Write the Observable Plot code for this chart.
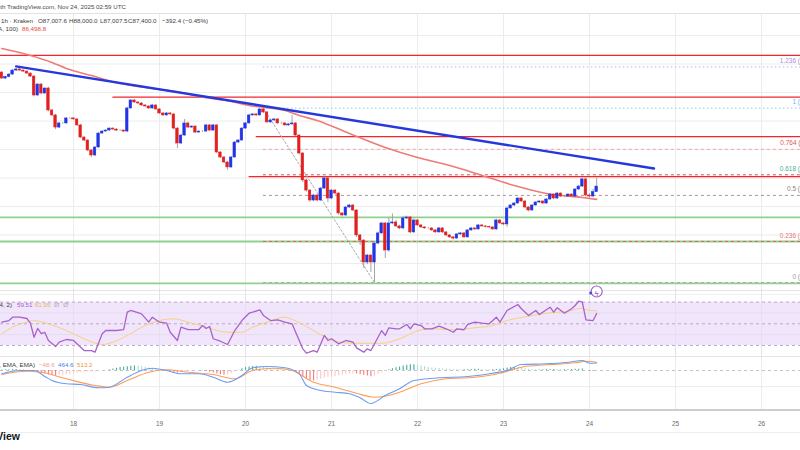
<!DOCTYPE html>
<html>
<head>
<meta charset="utf-8">
<title>BTC/USD 1h – Kraken</title>
<script src="https://cdn.jsdelivr.net/npm/d3@7"></script>
<script src="https://cdn.jsdelivr.net/npm/@observablehq/plot@0.6"></script>
<style>
  html, body { margin: 0; padding: 0; background: #fff; overflow: hidden; }
  #chart { position: relative; width: 800px; height: 450px; overflow: hidden;
           font-family: "Liberation Sans", "DejaVu Sans", sans-serif; color: #3d3d3d; }
  .pane { position: absolute; left: 0; width: 800px; overflow: hidden; }
  .txt { position: absolute; white-space: nowrap; font-size: 6.2px; line-height: 8px; }
  .rule { position: absolute; left: 0; width: 800px; }
</style>
</head>
<body>
<div id="chart">
  <div class="pane" id="price" style="top:13px;height:276px"></div>
  <div class="rule" style="top:290px;height:1px;background:#e6e6e6"></div>
  <div class="rule" style="top:294px;height:1px;background:#efefef"></div>
  <div class="pane" id="rsi" style="top:280px;height:77px"></div>
  <div class="rule" style="top:356px;height:1px;background:#e4e4e4"></div>
  <div class="pane" id="macd" style="top:357px;height:52px"></div>
  <div class="pane" id="axis" style="top:409px;height:24px"></div>
  <div class="rule" style="top:409px;height:2px;background:#cdcdcd"></div>
  <div class="rule" style="top:432px;height:1px;background:#eeeeee"></div>
  <div class="rule" style="top:13px;height:1px;background:#e2e2e2"></div>

  <div class="txt" style="right:674px;top:3px;color:#4a4a4a">Bitcoin / U.S. Dollar, 1h, Kraken, created with TradingView.com, Nov 24, 2025 02:59 UTC</div>
  <div class="txt" style="right:767px;top:17px">Bitcoin / U.S. Dollar · 1h · Kraken</div>
  <div class="txt" id="ohlc" style="top:17px"></div>
  <div class="txt" style="right:782px;top:25px">EMA (EMA, 100)</div>
  <div class="txt" id="emaValue" style="left:22px;top:25px;color:#e8453c"></div>

  <div class="txt" style="right:788px;top:301px">RSI (close, 14, SMA, 14, 2)</div>
  <div class="txt" id="rsiLegend" style="top:301px"></div>
  <div class="txt" style="right:765px;top:361px">MACD (12, 26, close, 9, EMA, EMA)</div>
  <div class="txt" id="macdLegend" style="top:361px"></div>

  <div class="txt" style="right:780px;top:430px;font-size:10.5px;line-height:12px;font-weight:bold;color:#131722">TradingView</div>
</div>
<script>
// ---- BTC/USD hourly candles, Nov 17 04:00 UTC to Nov 24 02:00 UTC ----
const firstOpen = 95400;
const closes = [
  94980, 95090, 95260, 95540, 95620, 95540, 95470, 95330, 95120, 93790,
  94560, 93930, 94280, 92740, 92390, 91540, 91830, 91830, 92180, 92180,
  92110, 91690, 90840, 90630, 89930, 89580, 90140, 91120, 91260, 91330,
  91470, 91400, 91330, 91330, 91260, 92880, 93440, 93300, 93230, 93090,
  93020, 92880, 93090, 92810, 92530, 92390, 92530, 92460, 91470, 90420,
  90980, 91830, 91540, 91610, 91190, 91260, 91260, 91690, 91330, 91690,
  89790, 89440, 89090, 88740, 89440, 90490, 90630, 91470, 91830, 92390,
  92460, 92390, 92810, 92600, 91900, 92040, 92110, 91830, 91830, 91690,
  91760, 91830, 90980, 89720, 87830, 87120, 86420, 86770, 86420, 87260,
  87970, 86560, 87120, 86910, 85510, 85370, 85930, 86070, 85720, 83970,
  83610, 82070, 82560, 82070, 83400, 84110, 84810, 82910, 84810, 84880,
  84600, 84460, 85160, 85230, 84180, 85020, 84670, 84530, 84460, 84460,
  84320, 84180, 84460, 84180, 83970, 83830, 83750, 84040, 84110, 83830,
  84320, 84460, 84390, 84670, 84600, 84560, 84530, 84390, 85020, 84810,
  84740, 85860, 86070, 86210, 86560, 86350, 85930, 85720, 86070, 86280,
  86350, 86210, 86490, 86840, 86560, 86910, 86700, 86700, 86840, 86700,
  87190, 87400, 87900, 86770, 86700, 87007.6, 87400
];
// wick lengths above the body top and below the body bottom (USD)
const upperWick = [
  80, 60, 60, 70, 60, 60, 50, 60, 60, 80,
  70, 80, 60, 90, 70, 80, 60, 60, 70, 60,
  60, 50, 70, 60, 80, 70, 60, 80, 60, 60,
  50, 60, 60, 60, 60, 90, 70, 80, 60, 60,
  60, 60, 80, 60, 60, 60, 70, 60, 80, 70,
  80, 280, 70, 60, 60, 60, 60, 80, 70, 80,
  60, 60, 60, 70, 70, 80, 70, 70, 60, 80,
  60, 70, 90, 50, 80, 60, 60, 70, 70, 60,
  70, 560, 60, 60, 70, 80, 70, 90, 70, 80,
  120, 90, 80, 70, 80, 70, 60, 80, 70, 60,
  60, 70, 80, 60, 70, 90, 80, 70, 350, 600,
  150, 90, 150, 100, 70, 110, 80, 70, 60, 60,
  60, 60, 70, 60, 60, 50, 60, 70, 60, 60,
  70, 60, 60, 70, 60, 60, 60, 60, 80, 60,
  60, 90, 80, 70, 80, 60, 60, 60, 70, 60,
  60, 70, 80, 70, 60, 80, 60, 60, 60, 70,
  70, 80, 100, 90, 120, 200, 600
];
const lowerWick = [
  60, 60, 70, 60, 60, 50, 60, 60, 70, 100,
  80, 90, 70, 100, 80, 150, 70, 60, 60, 60,
  60, 70, 80, 80, 90, 150, 70, 60, 60, 60,
  60, 60, 60, 60, 60, 70, 60, 60, 60, 60,
  60, 70, 60, 60, 70, 60, 60, 60, 100, 350,
  70, 60, 60, 60, 80, 60, 60, 60, 70, 60,
  90, 70, 80, 200, 70, 60, 70, 60, 60, 60,
  60, 60, 60, 70, 70, 60, 70, 60, 60, 70,
  60, 60, 80, 120, 150, 100, 120, 90, 100, 80,
  70, 300, 80, 90, 120, 100, 80, 70, 90, 150,
  350, 420, 150, 700, 1410, 90, 80, 560, 120, 80,
  90, 90, 100, 90, 100, 80, 70, 70, 60, 60,
  70, 60, 60, 70, 80, 80, 100, 60, 70, 70,
  60, 60, 70, 60, 60, 60, 60, 70, 60, 70,
  80, 200, 60, 70, 60, 70, 80, 100, 60, 60,
  60, 70, 60, 60, 90, 60, 70, 60, 60, 60,
  70, 60, 70, 100, 100, 80, 0.1
];

// 100-period EMA, [candle index, value]
const emaPoints = [
  [0, 97090], [8, 96600], [14, 96110], [18, 95690], [25, 95190], [33, 94630],
  [42, 94280], [50, 94000], [55, 93720], [64, 93370], [69, 93090], [79, 92740],
  [83, 92390], [88, 92040], [97, 91120], [107, 90140], [116, 89440], [125, 88880],
  [134, 88180], [143, 87470], [152, 86910], [162, 86630], [166, 86498.8]
];

// drawn levels
const resistancePrices = [96600, 93670, 90910, 88100];
const resistanceFrom = [null, 31, 71, 69];        // candle index where the line begins
const supportPrices = [85230, 83545, 80600];
const trendIdx = [4, 182];
const trendPrices = [95830, 88670];

// Fibonacci retracement from the Nov 20 swing high to the Nov 21 low
const fibHigh = 92900, fibLow = 80660;
const fibHighIdx = 73, fibLowIdx = 104;
const fibLevels = [0, 0.236, 0.5, 0.618, 0.764, 1, 1.236];

// RSI (14) and its SMA, [candle index, value]
const rsiPoints = [
  [0,51.5],[2,53.0],[3,56.1],[5,56.1],[7,54.9],[8,50.3],[9,37.6],[10,45.7],[11,41.0],[12,42.0],
  [13,34.6],[15,29.0],[16,33.0],[18,35.5],[20,34.6],[22,28.4],[23,25.3],[25,25.3],[26,23.8],[28,40.8],
  [29,43.8],[32,43.8],[34,44.7],[35,60.7],[36,62.3],[39,59.2],[41,51.5],[42,56.1],[44,51.5],[46,50.6],
  [47,42.2],[49,34.6],[50,46.9],[52,44.7],[55,44.7],[56,48.4],[57,45.7],[58,47.5],[59,36.2],[61,33.9],
  [63,30.9],[65,43.8],[67,53.0],[69,59.8],[70,60.7],[72,62.9],[73,57.7],[75,53.0],[77,53.7],[79,51.5],
  [81,50.0],[82,42.2],[84,26.9],[85,22.9],[87,25.3],[88,23.8],[90,39.2],[91,34.6],[92,36.2],[94,31.5],
  [96,34.6],[98,33.0],[99,27.8],[101,23.8],[102,26.9],[103,25.3],[106,43.8],[107,39.2],[108,46.3],[110,45.4],
  [111,45.4],[113,49.4],[114,45.4],[115,50.0],[117,48.4],[118,45.4],[120,45.4],[122,47.8],[124,45.4],[126,42.2],
  [127,45.4],[129,44.5],[130,49.4],[132,51.5],[134,50.6],[136,50.0],[138,56.1],[139,51.5],[141,62.3],[144,67.8],
  [145,63.9],[147,57.7],[149,62.3],[150,58.6],[153,65.3],[154,60.7],[155,64.8],[157,59.8],[159,63.9],[160,66.9],
  [161,70.9],[162,69.9],[163,53.7],[165,53.0],[166,59.51]
];
const rsiMaPoints = [
  [0,40.8],[3,46.9],[7,51.5],[9,53.0],[13,50.0],[18,43.8],[23,36.2],[28,30.9],[31,33.0],[35,39.2],
  [40,48.4],[44,53.0],[48,54.6],[52,51.5],[57,46.9],[63,42.2],[67,42.2],[70,46.9],[74,51.5],[79,56.1],
  [81,54.0],[85,47.5],[89,40.0],[94,33.0],[100,32.0],[106,32.0],[111,36.2],[117,44.5],[120,45.4],[126,44.5],
  [132,46.3],[137,48.4],[141,53.0],[147,57.0],[152,59.8],[158,61.6],[162,64.4],[163,62.9],[166,61.95]
];

// MACD (12, 26, 9)
const macdPoints = [
  [0,-205],[5,0],[9,0],[12,-372],[14,-620],[18,-825],[22,-868],[27,-1073],[30,-1035],[35,-415],
  [39,0],[42,143],[46,0],[50,-205],[55,-205],[59,-415],[63,-725],[67,-310],[70,167],[74,248],
  [79,167],[83,-205],[85,-930],[89,-1240],[93,-1345],[97,-1445],[100,-1693],[103,-2046],[107,-1550],[111,-1135],
  [115,-620],[122,-453],[130,-372],[137,-167],[141,0],[145,372],[152,415],[158,515],[162,620],[164,453],[166,464.6]
];
const signalPoints = [
  [0,-248],[7,-43],[11,-105],[18,-515],[26,-930],[30,-1035],[35,-620],[41,-105],[46,43],[52,-105],
  [59,-248],[65,-515],[70,0],[76,143],[81,0],[87,-725],[93,-1035],[98,-1345],[104,-1655],[108,-1550],
  [111,-1345],[117,-825],[124,-515],[132,-415],[139,-167],[145,205],[152,353],[160,477],[163,577],[166,513.2]
];
const histogram = [
  30, 40, 40, 50, 60, 50, 40, 20, 0, -60, -120, -180,
  -220, -280, -300, -320, -300, -290, -270, -240, -200, -150, -130, -120,
  -110, -100, -90, -60, -30, 0, 40, 90, 140, 180, 200, 230,
  260, 280, 260, 230, 200, 160, 120, 70, 20, -20, -50, -80,
  -120, -140, -130, -100, -60, -30, -10, 0, -20, -60, -110, -160,
  -220, -270, -290, -280, -200, -100, 20, 110, 180, 220, 250, 260,
  230, 190, 150, 120, 100, 80, 60, 30, 0, -40, -100, -220,
  -380, -520, -620, -650, -610, -540, -480, -440, -420, -380, -330, -290,
  -250, -220, -210, -220, -260, -300, -340, -380, -350, -250, -150, -60,
  40, 110, 170, 220, 280, 320, 350, 360, 330, 280, 230, 190,
  160, 140, 120, 100, 80, 70, 60, 50, 40, 40, 50, 60,
  70, 70, 60, 50, 40, 40, 60, 80, 110, 150, 180, 190,
  180, 150, 110, 70, 40, 30, 30, 40, 50, 60, 60, 50,
  40, 40, 50, 60, 70, 80, 90, 20, -40, -60, -48.6
];

const dayLabels = [17, 18, 19, 20, 21, 22, 23, 24, 25, 26];
const priceTicks = [82000, 84000, 86000, 88000, 90000, 92000, 94000, 96000, 98000];

// ---- time axis ----
const H = 3600e3;
const firstCandle = Date.UTC(2025, 10, 17, 4);
const at = i => new Date(firstCandle + i * H);
const pxPerDay = 86;
const xStart = new Date(Date.UTC(2025, 10, 18) - (73 / pxPerDay) * 24 * H);
const xEnd = new Date(+xStart + (800 / pxPerDay) * 24 * H);
const xOpt = {type: "utc", domain: [xStart, xEnd], axis: null};
const days = dayLabels.map(d => new Date(Date.UTC(2025, 10, d)));
const font = '"Liberation Sans", "DejaVu Sans", sans-serif';
const pts = arr => arr.map(([i, v]) => ({t: at(i), v}));

// ---- candles ----
const UP = "#2234e6", DOWN = "#e3201f";
const candles = closes.map((c, i) => {
  const o = i === 0 ? firstOpen : closes[i - 1];
  return {t: at(i), open: o, close: c,
          high: Math.max(o, c) + upperWick[i], low: Math.min(o, c) - lowerWick[i]};
});

const fmt = d3.format(",.1f");
const fibs = fibLevels.map(level => ({level, price: fibLow + level * (fibHigh - fibLow)}));
const fibLine = {0: "#a8a8a8", 0.236: "#ea5a5a", 0.5: "#a89696", 0.618: "#ea4a4a", 0.764: "#f5a3a3", 1: "#a7d2f4", 1.236: "#cda8f0"};
const fibText = {0: "#9a9a9a", 0.236: "#ee6f6f", 0.5: "#8f7f7f", 0.618: "#4fae8e", 0.764: "#e25555", 1: "#6fb3ee", 1.236: "#b487e0"};
const dotted = new Set([1, 1.236]);

const resistance = resistancePrices.map((p, k) => ({p, from: resistanceFrom[k] == null ? xStart : at(resistanceFrom[k])}));
const trend = trendIdx.map((i, k) => ({t: at(i), p: trendPrices[k]}));
const fibDiagonal = [{t: at(fibHighIdx), p: fibHigh}, {t: at(fibLowIdx), p: fibLow}];

const price = Plot.plot({
  width: 800, height: 276, margin: 0,
  style: {background: "transparent", fontFamily: font},
  x: xOpt,
  y: {domain: [80175, 99545], axis: null},
  marks: [
    Plot.ruleX(days, {stroke: "#ececec"}),
    Plot.ruleY(priceTicks, {stroke: "#ececec"}),
    Plot.ruleY(supportPrices, {stroke: "#8fd18c", strokeWidth: 1.8}),
    Plot.ruleY(fibs.filter(d => dotted.has(d.level)), {y: "price", x1: () => at(fibHighIdx), x2: () => xEnd,
      stroke: d => fibLine[d.level], strokeWidth: 1.2, strokeDasharray: "1.5,2.5"}),
    Plot.ruleY(fibs.filter(d => !dotted.has(d.level)), {y: "price", x1: () => at(fibHighIdx), x2: () => xEnd,
      stroke: d => fibLine[d.level], strokeWidth: 1, strokeDasharray: "3,3"}),
    Plot.ruleY(resistance, {y: "p", x1: "from", x2: () => xEnd, stroke: "#f2262b", strokeWidth: 1.2}),
    Plot.line(pts(emaPoints), {x: "t", y: "v", stroke: "#f07a78", strokeWidth: 1.6, curve: "monotone-x"}),
    Plot.line(fibDiagonal, {x: "t", y: "p", stroke: "#a9a9a9", strokeWidth: 1, strokeDasharray: "2,2"}),
    Plot.line(trend, {x: "t", y: "p", stroke: "#2638dc", strokeWidth: 2.4}),
    Plot.ruleX(candles, {x: "t", y1: "low", y2: "high", stroke: "#9a9a9a", strokeWidth: 0.9}),
    Plot.rect(candles, {
      x1: d => new Date(+d.t - 0.36 * H), x2: d => new Date(+d.t + 0.36 * H),
      y1: "open", y2: "close",
      fill: d => d.close >= d.open ? UP : DOWN, stroke: d => d.close >= d.open ? UP : DOWN, strokeWidth: 0.5
    }),
    Plot.text(fibs, {y: "price", frameAnchor: "right", dx: 27, dy: -6, textAnchor: "end",
      text: d => `${d.level} (${fmt(d.price)})`, fill: d => fibText[d.level], fontSize: 6.5})
  ]
});
document.getElementById("price").append(price);

// ---- RSI pane ----
const lastT = at(closes.length - 1);
const rsi = Plot.plot({
  width: 800, height: 77, marginTop: 9, marginBottom: 0, marginLeft: 0, marginRight: 0,
  style: {background: "transparent", fontFamily: font},
  x: xOpt,
  y: {domain: [18.88, 81.67], axis: null},
  marks: [
    Plot.rect([{lo: 30, hi: 70}], {x1: () => xStart, x2: () => xEnd, y1: "lo", y2: "hi", fill: "#f1e5fc"}),
    Plot.ruleX(days, {stroke: "#e6e0ec"}),
    Plot.ruleY([40, 60], {stroke: "#e4dcef"}),
    Plot.ruleY([30, 50, 70], {stroke: "#b9aac9", strokeDasharray: "3,3"}),
    Plot.line(pts(rsiMaPoints), {x: "t", y: "v", stroke: "#f6d17c", strokeWidth: 1, curve: "monotone-x"}),
    Plot.line(pts(rsiPoints), {x: "t", y: "v", stroke: "#a862c9", strokeWidth: 1.3}),
    Plot.dot([lastT], {x: d => d, frameAnchor: "top", dy: 2, r: 5.5, stroke: "#a35fd0", strokeWidth: 1.2, fill: "white"}),
    Plot.dot([lastT], {x: d => d, frameAnchor: "top", dx: -6, dy: 3.5, r: 1.5, fill: "#3a56d8"}),
    Plot.text([lastT], {x: d => d, frameAnchor: "top", dy: 2, text: () => "ϟ", fill: "#a35fd0", fontSize: 7, fontWeight: "bold"})
  ]
});
document.getElementById("rsi").append(rsi);

// ---- MACD pane ----
const histBars = histogram.map((v, i) => ({t: at(i), v, prev: i ? histogram[i - 1] : 0}));
const histColor = d => d.v >= 0 ? (d.v >= d.prev ? "#3fae9c" : "#a9dcd5") : (d.v < d.prev ? "#f47a7a" : "#fbc6c6");
const macd = Plot.plot({
  width: 800, height: 52, margin: 0,
  style: {background: "transparent", fontFamily: font},
  x: xOpt,
  y: {domain: [-2418, 806], axis: null},
  marks: [
    Plot.ruleX(days, {stroke: "#ececec"}),
    Plot.ruleY([-1000], {stroke: "#ececec"}),
    Plot.ruleY([0], {stroke: "#c4c4c4", strokeDasharray: "3,3"}),
    Plot.ruleX(histBars, {x: "t", y1: () => 0, y2: "v", stroke: histColor, strokeWidth: 1.1}),
    Plot.line(pts(signalPoints), {x: "t", y: "v", stroke: "#ff9d55", strokeWidth: 1.1, curve: "monotone-x"}),
    Plot.line(pts(macdPoints), {x: "t", y: "v", stroke: "#6d9cf4", strokeWidth: 1.1, curve: "monotone-x"})
  ]
});
document.getElementById("macd").append(macd);

// ---- date axis ----
const axis = Plot.plot({
  width: 800, height: 24, margin: 0,
  style: {background: "transparent", fontFamily: font},
  x: xOpt,
  marks: [
    Plot.text(days, {x: d => d, frameAnchor: "top", dy: 12, text: d => String(d.getUTCDate()), fill: "#6a6a6a", fontSize: 6.5})
  ]
});
document.getElementById("axis").append(axis);

// ---- legends ----
const last = candles[candles.length - 1];
const ohlcItems = [
  [38, `O${fmt(last.open)}`],
  [69, `H${fmt(last.high)}`],
  [100, `L${fmt(last.low)}`],
  [128, `C${fmt(last.close)}`],
  [162, "−392.4 (−0.45%)"]
];
const ohlc = document.getElementById("ohlc");
ohlc.style.left = "0px";
ohlc.innerHTML = ohlcItems.map(([x, s]) => `<span style="position:absolute;left:${x}px">${s}</span>`).join("");
document.getElementById("emaValue").textContent = fmt(emaPoints[emaPoints.length - 1][1]);

const legend = (id, items) => {
  const el = document.getElementById(id);
  el.style.left = "0px";
  el.innerHTML = items.map(([x, s, c]) => `<span style="position:absolute;left:${x}px;color:${c}">${s}</span>`).join("");
};
const lastRsi = rsiPoints[rsiPoints.length - 1][1], lastRsiMa = rsiMaPoints[rsiMaPoints.length - 1][1];
legend("rsiLegend", [[17, lastRsi.toFixed(2), "#a35fd0"], [35, lastRsiMa.toFixed(2), "#e8b84c"], [54, "∅", "#8a8a8a"], [63, "∅", "#8a8a8a"]]);
const lastMacd = macdPoints[macdPoints.length - 1][1], lastSignal = signalPoints[signalPoints.length - 1][1];
legend("macdLegend", [[39, (lastMacd - lastSignal).toFixed(1).replace("-", "−"), "#f29a9a"], [58, lastMacd.toFixed(1), "#4a7ff0"], [77, lastSignal.toFixed(1), "#f5923e"]]);
</script>
</body>
</html>
